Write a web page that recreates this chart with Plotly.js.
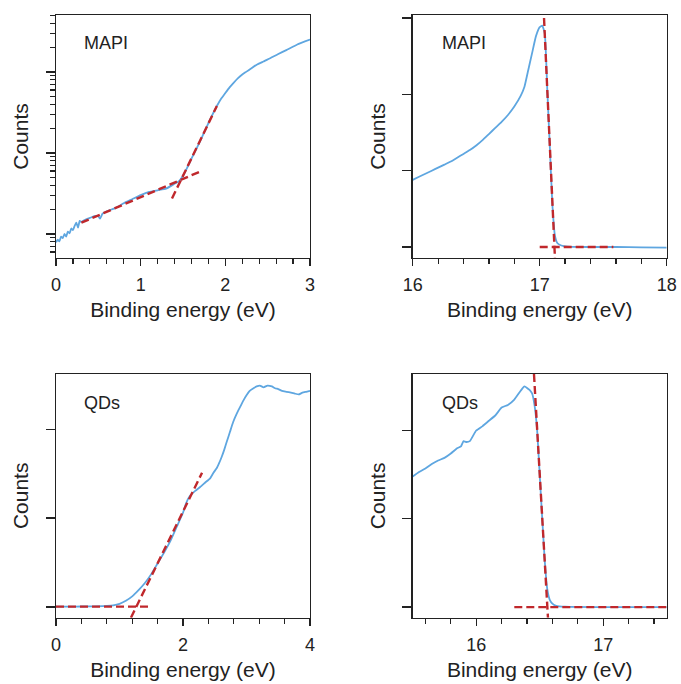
<!DOCTYPE html>
<html>
<head>
<meta charset="utf-8">
<script src="https://cdn.plot.ly/plotly-3.0.1.min.js"></script>
<style>html,body{margin:0;padding:0;background:#fff;}#plot{width:681px;height:684px;}</style>
</head>
<body>
<div id="plot"></div>
<script>
// ---- Panel A: MAPI valence band (log counts) ----
const mapiVbX = [0.00,0.02,0.04,0.06,0.08,0.10,0.12,0.14,0.16,0.18,0.20,0.22,0.24,0.26,0.28,0.30,0.35,0.40,0.45,0.50,0.52,0.55,0.60,0.70,0.80,0.90,1.00,1.10,1.20,1.30,1.40,1.45,1.50,1.55,1.60,1.70,1.80,1.90,1.95,2.00,2.05,2.10,2.15,2.20,2.25,2.30,2.37,2.45,2.53,2.62,2.72,2.85,3.00];
const mapiVbY = [79,85,81,93,89,100,93,107,102,117,112,126,138,120,145,141,151,158,166,166,155,178,191,209,240,269,302,331,347,363,417,447,525,661,851,1380,2344,3802,4677,5495,6457,7413,8414,9333,10116,10965,12303,13490,14791,16596,18621,21878,25119];
const mapiVbFit1X = [0.30,1.70];
const mapiVbFit1Y = [138,589];
const mapiVbFit2X = [1.37,1.90];
const mapiVbFit2Y = [275,3802];

// ---- Panel B: MAPI secondary electron cutoff ----
const mapiSecoX = [16.00,16.05,16.10,16.15,16.20,16.25,16.30,16.35,16.40,16.45,16.50,16.55,16.60,16.65,16.70,16.75,16.80,16.85,16.88,16.91,16.94,16.97,17.00,17.02,17.04,17.06,17.08,17.10,17.12,17.14,17.17,17.22,17.40,17.60,17.80,18.00];
const mapiSecoY = [0.88,0.92,0.96,1.00,1.04,1.08,1.12,1.17,1.22,1.27,1.33,1.40,1.48,1.56,1.64,1.73,1.84,1.98,2.10,2.32,2.54,2.76,2.88,2.90,2.80,2.05,1.30,0.55,0.15,0.05,0.02,0.005,0.0,0.0,-0.005,-0.008];
const mapiSecoFit1X = [17.034,17.12];
const mapiSecoFit1Y = [3.0,-0.144];
const mapiSecoFit2X = [17.0,17.58];
const mapiSecoFit2Y = [0,0];

// ---- Panel C: QDs valence band ----
const qdVbX = [0.0,0.2,0.4,0.6,0.8,0.9,1.0,1.1,1.2,1.3,1.4,1.5,1.6,1.7,1.8,1.9,2.0,2.05,2.10,2.15,2.20,2.27,2.35,2.43,2.48,2.53,2.57,2.61,2.65,2.69,2.74,2.79,2.85,2.90,2.95,3.00,3.05,3.11,3.16,3.21,3.27,3.33,3.40,3.45,3.50,3.56,3.63,3.70,3.76,3.82,3.88,3.94,4.00];
const qdVbY = [0.005,0.005,0.006,0.008,0.012,0.018,0.035,0.07,0.12,0.19,0.27,0.37,0.49,0.61,0.74,0.90,1.06,1.17,1.24,1.28,1.31,1.35,1.40,1.45,1.51,1.56,1.62,1.69,1.77,1.86,1.97,2.08,2.18,2.25,2.32,2.38,2.43,2.46,2.48,2.49,2.47,2.49,2.48,2.46,2.45,2.43,2.42,2.41,2.40,2.39,2.41,2.42,2.43];
const qdVbFit1X = [0.0,1.5];
const qdVbFit1Y = [0.005,0.005];
const qdVbFit2X = [1.18,2.30];
const qdVbFit2Y = [-0.12,1.51];

// ---- Panel D: QDs secondary electron cutoff ----
const qdSecoX = [15.50,15.55,15.60,15.65,15.70,15.75,15.80,15.85,15.88,15.90,15.92,15.95,16.00,16.05,16.10,16.15,16.20,16.25,16.30,16.35,16.38,16.42,16.44,16.46,16.48,16.50,16.52,16.54,16.56,16.58,16.60,16.63,16.70,17.00,17.50];
const qdSecoY = [1.48,1.53,1.57,1.62,1.66,1.69,1.74,1.80,1.82,1.88,1.87,1.88,2.00,2.05,2.11,2.17,2.26,2.29,2.35,2.45,2.50,2.46,2.42,2.28,2.00,1.50,1.00,0.52,0.20,0.08,0.04,0.015,0.005,0.0,0.0];
const qdSecoFit1X = [16.455,16.565];
const qdSecoFit1Y = [2.64,-0.12];
const qdSecoFit2X = [16.30,17.50];
const qdSecoFit2Y = [0,0];

const panelLabels = ["MAPI","MAPI","QDs","QDs"];
const xTitle = "Binding energy (eV)";
const yTitle = "Counts";

const blue = "#5ea6e0";
const red = "#c0282c";
const FONT = "Liberation Sans, Arial, sans-serif";

function dataLine(x, y, xa, ya) {
  return {x: x, y: y, xaxis: xa, yaxis: ya, mode: "lines", type: "scatter",
          line: {color: blue, width: 1.8, shape: "spline", smoothing: 0.4}, hoverinfo: "skip"};
}
function fitLine(x, y, xa, ya) {
  return {x: x, y: y, xaxis: xa, yaxis: ya, mode: "lines", type: "scatter",
          line: {color: red, width: 2.4, dash: "8px,4px"}, hoverinfo: "skip"};
}

const traces = [
  dataLine(mapiVbX, mapiVbY, "x", "y"),
  fitLine(mapiVbFit1X, mapiVbFit1Y, "x", "y"),
  fitLine(mapiVbFit2X, mapiVbFit2Y, "x", "y"),
  dataLine(mapiSecoX, mapiSecoY, "x2", "y2"),
  fitLine(mapiSecoFit1X, mapiSecoFit1Y, "x2", "y2"),
  fitLine(mapiSecoFit2X, mapiSecoFit2Y, "x2", "y2"),
  dataLine(qdVbX, qdVbY, "x3", "y3"),
  fitLine(qdVbFit1X, qdVbFit1Y, "x3", "y3"),
  fitLine(qdVbFit2X, qdVbFit2Y, "x3", "y3"),
  dataLine(qdSecoX, qdSecoY, "x4", "y4"),
  fitLine(qdSecoFit1X, qdSecoFit1Y, "x4", "y4"),
  fitLine(qdSecoFit2X, qdSecoFit2Y, "x4", "y4")
];

const W = 681, H = 684;
const leftDom = [56 / W, 310 / W];
const rightDom = [412.7 / W, 666.7 / W];
const topDom = [(H - 258) / H, (H - 15) / H];
const botDom = [(H - 617.7) / H, (H - 374) / H];

const axCommon = {
  showline: true, mirror: true, linecolor: "#222", linewidth: 1.3,
  ticks: "outside", ticklen: 7, tickwidth: 1.2, tickcolor: "#222",
  showgrid: false, zeroline: false, fixedrange: true,
  tickfont: {family: FONT, size: 18, color: "#222"}
};
function xAxis(dom, anchor, range, dtick, minorDtick) {
  return Object.assign({}, axCommon, {
    domain: dom, anchor: anchor, range: range, dtick: dtick, tick0: 0,
    ticklabelstandoff: 3,
    minor: {dtick: minorDtick, ticks: "outside", ticklen: 4.5, tickwidth: 1.2, tickcolor: "#222", showgrid: false},
    title: {text: xTitle, font: {family: FONT, size: 21, color: "#222"}, standoff: 8}
  });
}
function yAxisLin(dom, anchor, range, tickvals) {
  return Object.assign({}, axCommon, {
    domain: dom, anchor: anchor, range: range, tickvals: tickvals, showticklabels: false,
    ticklen: 9,
    title: {text: yTitle, font: {family: FONT, size: 21, color: "#222"}, standoff: 11}
  });
}

const logMinor = [];
[10, 100, 1000, 10000].forEach(d => { for (let k = 2; k <= 9; k++) logMinor.push(d * k); });

const layout = {
  width: W, height: H,
  margin: {l: 0, r: 0, t: 0, b: 0},
  paper_bgcolor: "#fff", plot_bgcolor: "#fff",
  showlegend: false,
  font: {family: FONT, color: "#222"},
  xaxis: xAxis(leftDom, "y", [0, 3], 1, 0.2),
  yaxis: Object.assign({}, axCommon, {
    domain: topDom, anchor: "x", type: "log", range: [1.704, 4.704],
    tickvals: [100, 1000, 10000], showticklabels: false, ticklen: 9,
    minor: {tickvals: logMinor, ticks: "outside", ticklen: 5, tickwidth: 1.2, tickcolor: "#222", showgrid: false},
    title: {text: yTitle, font: {family: FONT, size: 21, color: "#222"}, standoff: 11}
  }),
  xaxis2: xAxis(rightDom, "y2", [16, 18], 1, 0.2),
  yaxis2: yAxisLin(topDom, "x2", [-0.144, 3.04], [0, 1, 2, 3]),
  xaxis3: xAxis(leftDom, "y3", [0, 4], 2, 0.4),
  yaxis3: yAxisLin(botDom, "x3", [-0.12, 2.62], [0, 1, 2]),
  xaxis4: xAxis(rightDom, "y4", [15.5, 17.5], 1, 0.2),
  yaxis4: yAxisLin(botDom, "x4", [-0.12, 2.64], [0, 1, 2]),
  annotations: [
    {text: panelLabels[0], xref: "x domain", yref: "y domain", x: 0.102, y: 0.885},
    {text: panelLabels[1], xref: "x2 domain", yref: "y2 domain", x: 0.107, y: 0.885},
    {text: panelLabels[2], xref: "x3 domain", yref: "y3 domain", x: 0.102, y: 0.881},
    {text: panelLabels[3], xref: "x4 domain", yref: "y4 domain", x: 0.107, y: 0.881}
  ].map(a => Object.assign(a, {xanchor: "left", yanchor: "middle", showarrow: false,
    font: {family: FONT, size: 18, color: "#222"}}))
};

Plotly.newPlot("plot", traces, layout, {staticPlot: true, displayModeBar: false});
</script>
</body>
</html>
